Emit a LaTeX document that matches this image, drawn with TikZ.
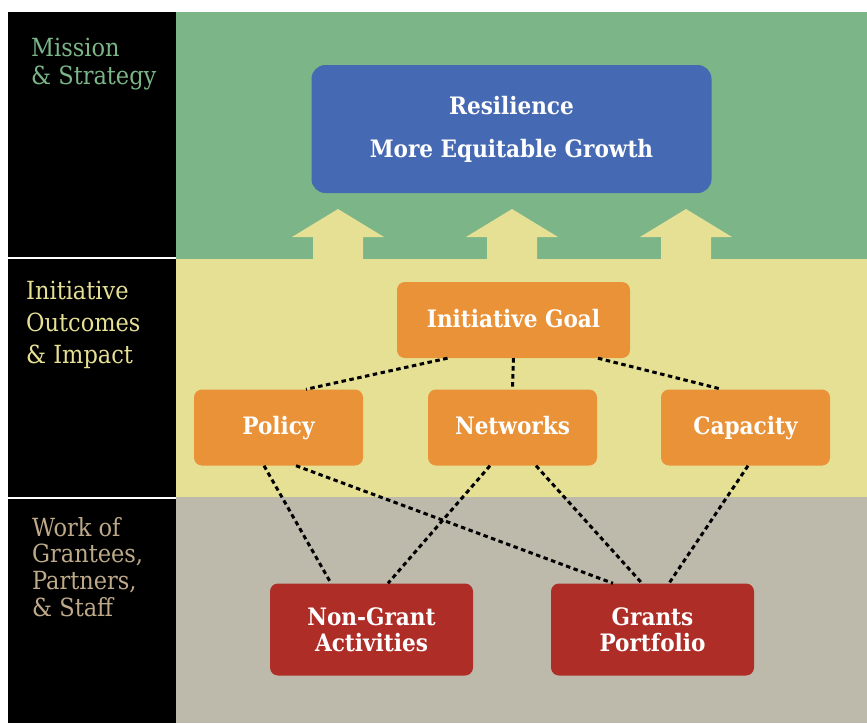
\documentclass[tikz,border=0pt]{standalone}
\usepackage{fontspec}
\setmainfont{DejaVu Serif Condensed}
\usetikzlibrary{positioning}

\definecolor{missiongreen}{RGB}{123,181,136}
\definecolor{outcomeyellow}{RGB}{230,224,149}
\definecolor{workgray}{RGB}{189,186,171}
\definecolor{worktan}{RGB}{190,170,138}
\definecolor{visionblue}{RGB}{69,105,179}
\definecolor{goalorange}{RGB}{233,146,56}
\definecolor{workred}{RGB}{174,45,38}

\tikzset{
	sidelabel/.style={anchor=north west, align=left, inner sep=0pt},
	visionbox/.style={fill=visionblue, rounded corners=14pt, minimum width=400pt, minimum height=128pt,
		text=white, align=center, font=\bfseries\fontsize{24}{28}\selectfont},
	outcomebox/.style={fill=goalorange, rounded corners=8pt, minimum height=76pt, text height=17pt, text depth=3pt,
		text=white, font=\bfseries\fontsize{24}{28}\selectfont},
	workbox/.style={fill=workred, rounded corners=8pt, minimum width=203pt, minimum height=92pt,
		text=white, align=center, font=\bfseries\fontsize{24}{26}\selectfont},
	link/.style={line width=3pt, dash pattern=on 4.5pt off 3.5pt},
}

\begin{document}
\begin{tikzpicture}[x=1pt, y=-1pt]
				\useasboundingbox (0,0) rectangle (867,723);

				%Panels
				\fill[missiongreen] (176,12) rectangle (867,259);
				\fill[outcomeyellow] (176,259) rectangle (867,497);
				\fill[workgray] (176,497) rectangle (867,723);
				\fill[black] (8,12) rectangle (176,723);
				\fill[white] (8,256.5) rectangle (176,258.5);
				\fill[white] (8,496.5) rectangle (176,498.5);

				%Side labels
				\node[sidelabel, text=missiongreen, font=\fontsize{25}{28}\selectfont] (mission) at (31,38) {Mission\\\& Strategy};
				\node[sidelabel, text=outcomeyellow, font=\fontsize{25}{32}\selectfont] (outcomes) at (26,281) {Initiative\\Outcomes\\\& Impact};
				\node[sidelabel, text=worktan, font=\fontsize{25}{26.7}\selectfont] (work) at (32,517) {Work of\\Grantees,\\Partners,\\\& Staff};

				%Arrows
				\foreach \ax in {338,512,686}
					\fill[outcomeyellow] (\ax-46,237) -- (\ax,209) -- (\ax+46,237) -- (\ax+25,237)
						-- (\ax+25,259) -- (\ax-25,259) -- (\ax-25,237) -- cycle;

				%Nodes
				\node[visionbox] (vision) at (511.5,129) {Resilience\\[15pt]More Equitable Growth};
				\node[outcomebox, minimum width=233pt] (goal) at (513.5,320) {Initiative Goal};
				\node[outcomebox, minimum width=169pt] (policy) at (278.5,427.5) {Policy};
				\node[outcomebox, minimum width=169pt] (networks) at (512.5,427.5) {Networks};
				\node[outcomebox, minimum width=169pt] (capacity) at (745.5,427.5) {Capacity};
				\node[workbox] (nongrant) at (371.5,629.5) {Non-Grant\\Activities};
				\node[workbox] (grants) at (652.5,629.5) {Grants\\Portfolio};

				%Lines
				\draw[link] ([xshift=-66pt]goal.south) -- ([xshift=27.5pt]policy.north);
				\draw[link] (goal.south) -- (networks.north);
				\draw[link] ([xshift=84.5pt]goal.south) -- ([xshift=-23.5pt]capacity.north);
				\draw[link] ([xshift=-14.5pt]policy.south) -- ([xshift=-40.5pt]nongrant.north);
				\draw[link] ([xshift=17.5pt]policy.south) -- ([xshift=-39.5pt]grants.north);
				\draw[link] ([xshift=-22.5pt]networks.south) -- ([xshift=16.5pt]nongrant.north);
				\draw[link] ([xshift=23.5pt]networks.south) -- ([xshift=-10.5pt]grants.north);
				\draw[link] ([xshift=2.5pt]capacity.south) -- ([xshift=16.5pt]grants.north);

			\end{tikzpicture}
\end{document}
